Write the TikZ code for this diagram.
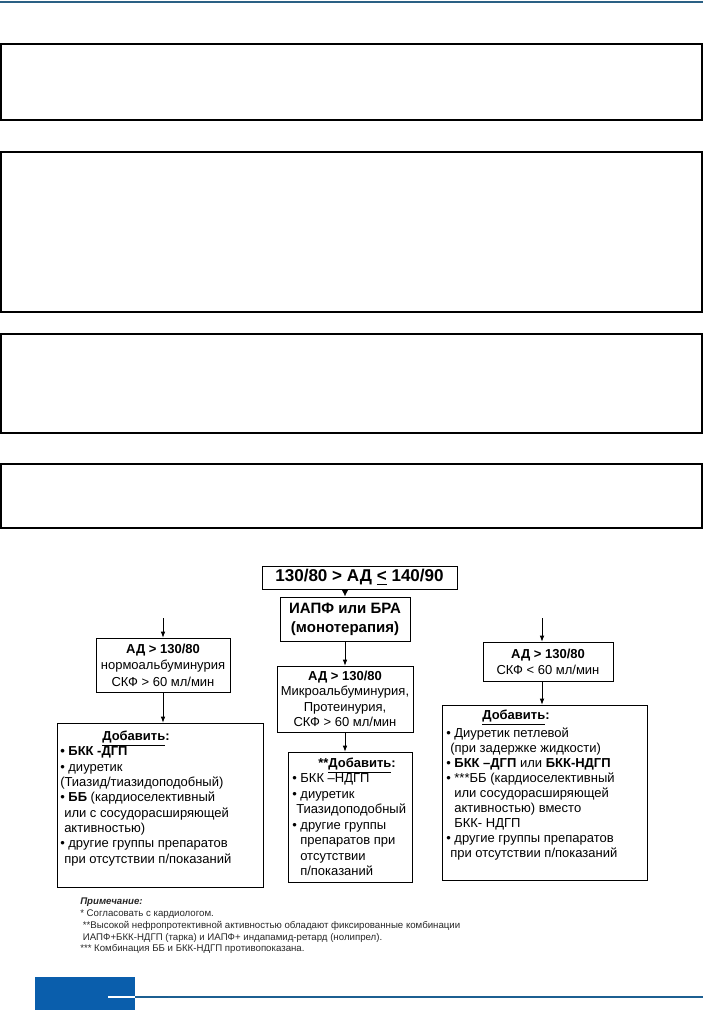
\documentclass[tikz,border=0pt]{standalone}
\usepackage{fontspec}
\setmainfont{Liberation Sans}
\usetikzlibrary{arrows.meta}
\definecolor{topline}{RGB}{42,96,132}
\definecolor{bluebar}{RGB}{10,94,172}
\definecolor{blueline}{RGB}{28,95,145}
\begin{document}
\begin{tikzpicture}[x=0.75pt,y=-0.75pt,
 emptybox/.style={draw=black, line width=0.9pt},
 fbox/.style={draw=black, line width=0.6pt, inner sep=0pt, align=center, font=\fontsize{9.75}{11.5}\selectfont},
 list/.style={inner sep=0pt, anchor=north west, align=left, font=\fontsize{9.75}{11.5}\selectfont},
 head/.style={inner sep=0pt, anchor=base, font=\bfseries\fontsize{9.75}{11.5}\selectfont},
 arr/.style={line width=0.6pt, -{Latex[length=4.5pt,width=3.5pt]}},
 bigarr/.style={line width=1.4pt, -{Latex[length=5pt,width=5pt]}}
]
\useasboundingbox (0,0) rectangle (703,1010);
\draw[topline, line width=1.1pt] (0,2) -- (703,2);

\draw[emptybox] (1,44) rectangle (702,120);
\draw[emptybox] (1,152) rectangle (702,312);
\draw[emptybox] (1,334) rectangle (702,433);
\draw[emptybox] (1,464) rectangle (702,528);

\node[fbox, minimum width=195*0.75pt, minimum height=23*0.75pt, font=\bfseries\fontsize{12.8}{14}\selectfont] (top) at (359.5,577.5) {130/80 > АД \underline{<} 140/90};
\node[fbox, minimum width=130*0.75pt, minimum height=44*0.75pt, font=\bfseries\fontsize{11.25}{14.25}\selectfont] (iapf) at (345,619) {ИАПФ или БРА\\(монотерапия)};

\node[fbox, minimum width=134*0.75pt, minimum height=54*0.75pt, font=\fontsize{9.75}{12.4}\selectfont] (l1) at (163,665) {\textbf{АД > 130/80}\\нормоальбуминурия\\СКФ > 60 мл/мин};
\node[fbox, minimum width=136*0.75pt, minimum height=66*0.75pt] (m1) at (345,699) {\textbf{АД > 130/80}\\Микроальбуминурия,\\Протеинурия,\\СКФ > 60 мл/мин};
\node[fbox, minimum width=130*0.75pt, minimum height=39*0.75pt, font=\fontsize{9.75}{12}\selectfont] (r1) at (548,661.5) {\textbf{АД > 130/80}\\СКФ < 60 мл/мин};

\node[fbox, minimum width=206*0.75pt, minimum height=164*0.75pt] (l2) at (160,805) {};
\node[fbox, minimum width=124*0.75pt, minimum height=130*0.75pt] (m2) at (350,817) {};
\node[fbox, minimum width=205*0.75pt, minimum height=175*0.75pt] (r2) at (544.5,792.5) {};

\coordinate (lin) at (163,618);
\draw[arr] (lin) -- (l1.north);
\draw[arr] (l1.south) -- (l1.south |- l2.north);
\draw[bigarr] (iapf.north |- top.south) -- (iapf.north);
\draw[arr] (iapf.south) -- (m1.north);
\draw[arr] (m1.south) -- (m1.south |- m2.north);
\coordinate (rin) at (542,618);
\draw[arr] (rin) -- (rin |- r1.north);
\draw[arr] (rin |- r1.south) -- (rin |- r2.north);

\node[head] (lh) at (136,740.5) {\underline{Добавить}:};
\node[list] (ll) at (60,746.7) {\textbf{• БКК -ДГП}\\• диуретик\\(Тиазид/тиазидоподобный)\\• \textbf{ББ} (кардиоселективный\\\hspace*{3pt}или с сосудорасширяющей\\\hspace*{3pt}активностью)\\• другие группы препаратов\\\hspace*{3pt}при отсутствии п/показаний};

\node[head] (mh) at (357,767.5) {**\underline{Добавить}:};
\node[list, font=\fontsize{9.75}{11.6}\selectfont] (ml) at (292,773.7) {• БКК –НДГП\\• диуретик\\\hspace*{3pt}Тиазидоподобный\\• другие группы\\\hspace*{6pt}препаратов при\\\hspace*{6pt}отсутствии\\\hspace*{6pt}п/показаний};

\node[head] (rh) at (516,719.5) {\underline{Добавить}:};
\node[list, font=\fontsize{9.75}{11.25}\selectfont] (rl) at (446,727.7) {• Диуретик петлевой\\\hspace*{3pt}(при задержке жидкости)\\• \textbf{БКК –ДГП} или \textbf{БКК-НДГП}\\• ***ББ (кардиоселективный\\\hspace*{6pt}или сосудорасширяющей\\\hspace*{6pt}активностью) вместо\\\hspace*{6pt}БКК- НДГП\\• другие группы препаратов\\\hspace*{3pt}при отсутствии п/показаний};

\node[list, font=\fontsize{7.25}{8.8}\selectfont, text=black!85] (notes) at (80,898) {\textbf{\textit{Примечание:}}\\* Согласовать с кардиологом.\\\hspace*{2pt}**Высокой нефропротективной активностью обладают фиксированные комбинации\\\hspace*{2pt}ИАПФ+БКК-НДГП (тарка) и ИАПФ+ индапамид-ретард (нолипрел).\\*** Комбинация ББ и БКК-НДГП противопоказана.};

\fill[bluebar] (35,977) rectangle (135,1010);
\draw[blueline, line width=0.9pt] (135,997) -- (703,997);
\draw[white, line width=0.9pt] (108,997) -- (135,997);
\end{tikzpicture}
\end{document}
